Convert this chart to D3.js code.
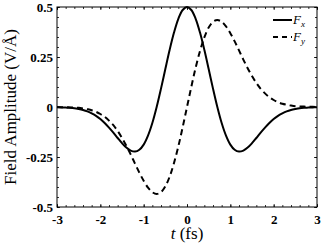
<!DOCTYPE html>
<html>
<head>
<meta charset="utf-8">
<script src="https://cdn.jsdelivr.net/npm/d3@7.9.0/dist/d3.min.js"></script>
<style>
  html, body { margin: 0; padding: 0; background: #fff; }
  svg { display: block; }
  text { font-family: "Liberation Serif", "Times New Roman", serif; fill: #000; }
  .tick text { font-weight: bold; font-size: 13px; }
  .domain { display: none; }
</style>
</head>
<body>
<div id="chart"></div>
<script>
// time samples (fs)
const times = [-3.0, -2.9, -2.8, -2.7, -2.6, -2.5, -2.4, -2.3, -2.2, -2.1, -2.0,
  -1.9, -1.8, -1.7, -1.6, -1.5, -1.4, -1.3, -1.2, -1.1, -1.0,
  -0.9, -0.8, -0.7, -0.6, -0.5, -0.4, -0.3, -0.2, -0.1, 0.0,
  0.1, 0.2, 0.3, 0.4, 0.5, 0.6, 0.7, 0.8, 0.9, 1.0,
  1.1, 1.2, 1.3, 1.4, 1.5, 1.6, 1.7, 1.8, 1.9, 2.0,
  2.1, 2.2, 2.3, 2.4, 2.5, 2.6, 2.7, 2.8, 2.9, 3.0];

// F_x (V/Å)
const fxValues = [-0.001, -0.002, -0.003, -0.004, -0.006, -0.010, -0.015, -0.022, -0.032, -0.044, -0.060,
  -0.080, -0.103, -0.128, -0.155, -0.181, -0.203, -0.218, -0.223, -0.214, -0.188,
  -0.143, -0.080, 0.000, 0.092, 0.190, 0.286, 0.372, 0.441, 0.485, 0.500,
  0.485, 0.441, 0.372, 0.286, 0.190, 0.092, 0.000, -0.080, -0.143, -0.188,
  -0.214, -0.223, -0.218, -0.203, -0.181, -0.155, -0.128, -0.103, -0.080, -0.060,
  -0.044, -0.032, -0.022, -0.015, -0.010, -0.006, -0.004, -0.003, -0.002, -0.001];

// F_y (V/Å)
const fyValues = [0.000, -0.001, -0.001, -0.002, -0.003, -0.004, -0.007, -0.011, -0.016, -0.024, -0.035,
  -0.049, -0.068, -0.091, -0.120, -0.155, -0.194, -0.237, -0.283, -0.328, -0.369,
  -0.403, -0.426, -0.435, -0.426, -0.397, -0.348, -0.280, -0.197, -0.101, 0.000,
  0.101, 0.197, 0.280, 0.348, 0.397, 0.426, 0.435, 0.426, 0.403, 0.369,
  0.328, 0.283, 0.237, 0.194, 0.155, 0.120, 0.091, 0.068, 0.049, 0.035,
  0.024, 0.016, 0.011, 0.007, 0.004, 0.003, 0.002, 0.001, 0.001, 0.000];

const xTicks = [-3, -2, -1, 0, 1, 2, 3];
const xTickLabels = ["-3", "-2", "-1", "0", "1", "2", "3"];
const yTicks = [-0.5, -0.25, 0, 0.25, 0.5];
const yTickLabels = ["-0.5", "-0.25", "0", "0.25", "0.5"];

const width = 321, height = 247;
const margin = { top: 7, right: 4, bottom: 40, left: 57 };

const svg = d3.select("#chart").append("svg")
  .attr("width", width)
  .attr("height", height);

const x = d3.scaleLinear().domain([-3, 3]).range([margin.left, width - margin.right]);
const y = d3.scaleLinear().domain([-0.5, 0.5]).range([height - margin.bottom, margin.top]);

const xMinor = d3.range(-3, 3.001, 0.2).map(d => +d.toFixed(1));
const yMinor = d3.range(-0.5, 0.5001, 0.05).map(d => +d.toFixed(2));

// minor ticks, all four sides
svg.append("g").attr("transform", `translate(0,${y(-0.5)})`)
  .call(d3.axisBottom(x).tickValues(xMinor).tickSize(-2).tickFormat(""));
svg.append("g").attr("transform", `translate(0,${y(0.5)})`)
  .call(d3.axisTop(x).tickValues(xMinor).tickSize(-2).tickFormat(""));
svg.append("g").attr("transform", `translate(${x(-3)},0)`)
  .call(d3.axisLeft(y).tickValues(yMinor).tickSize(-2).tickFormat(""));
svg.append("g").attr("transform", `translate(${x(3)},0)`)
  .call(d3.axisRight(y).tickValues(yMinor).tickSize(-2).tickFormat(""));

// major ticks + labels
svg.append("g").attr("transform", `translate(0,${y(-0.5)})`)
  .call(d3.axisBottom(x).tickValues(xTicks).tickSize(-3).tickPadding(8)
    .tickFormat((d, i) => xTickLabels[i]));
svg.append("g").attr("transform", `translate(0,${y(0.5)})`)
  .call(d3.axisTop(x).tickValues(xTicks).tickSize(-3).tickFormat(""));
svg.append("g").attr("transform", `translate(${x(-3)},0)`)
  .call(d3.axisLeft(y).tickValues(yTicks).tickSize(-3).tickPadding(4)
    .tickFormat((d, i) => yTickLabels[i]));
svg.append("g").attr("transform", `translate(${x(3)},0)`)
  .call(d3.axisRight(y).tickValues(yTicks).tickSize(-3).tickFormat(""));

svg.selectAll(".tick line").attr("stroke", "#000").attr("stroke-width", 0.8);

// frame
svg.append("rect")
  .attr("x", x(-3)).attr("y", y(0.5))
  .attr("width", x(3) - x(-3)).attr("height", y(-0.5) - y(0.5))
  .attr("fill", "none").attr("stroke", "#000").attr("stroke-width", 1);

const fx = times.map((t, i) => [t, fxValues[i]]);
const fy = times.map((t, i) => [t, fyValues[i]]);

const line = d3.line()
  .x(d => x(d[0]))
  .y(d => y(d[1]))
  .curve(d3.curveCatmullRom);

svg.append("path").datum(fx)
  .attr("d", line)
  .attr("fill", "none").attr("stroke", "#000").attr("stroke-width", 2);

svg.append("path").datum(fy)
  .attr("d", line)
  .attr("fill", "none").attr("stroke", "#000").attr("stroke-width", 2)
  .attr("stroke-dasharray", "6,4");

// legend
const legend = svg.append("g");
const entries = [{ sub: "x", dash: null }, { sub: "y", dash: "5,4" }];
entries.forEach((e, i) => {
  const ly = 20 + i * 17;
  legend.append("line")
    .attr("x1", 273).attr("x2", 292).attr("y1", ly).attr("y2", ly)
    .attr("stroke", "#000").attr("stroke-width", 2)
    .attr("stroke-dasharray", e.dash);
  const tx = legend.append("text")
    .attr("x", 293).attr("y", ly + 4)
    .style("font-size", "13px").style("font-style", "italic");
  tx.append("tspan").text("F");
  tx.append("tspan").attr("dy", 3).style("font-size", "9px").text(e.sub);
});

// axis labels
svg.append("text")
  .attr("transform", `translate(16,${(y(0.5) + y(-0.5)) / 2}) rotate(-90)`)
  .attr("text-anchor", "middle")
  .style("font-size", "17px")
  .text("Field Amplitude (V/Å)");

const xl = svg.append("text")
  .attr("x", (x(-3) + x(3)) / 2)
  .attr("y", 239)
  .attr("text-anchor", "middle")
  .style("font-size", "17px");
xl.append("tspan").style("font-style", "italic").text("t");
xl.append("tspan").text(" (fs)");
</script>
</body>
</html>
